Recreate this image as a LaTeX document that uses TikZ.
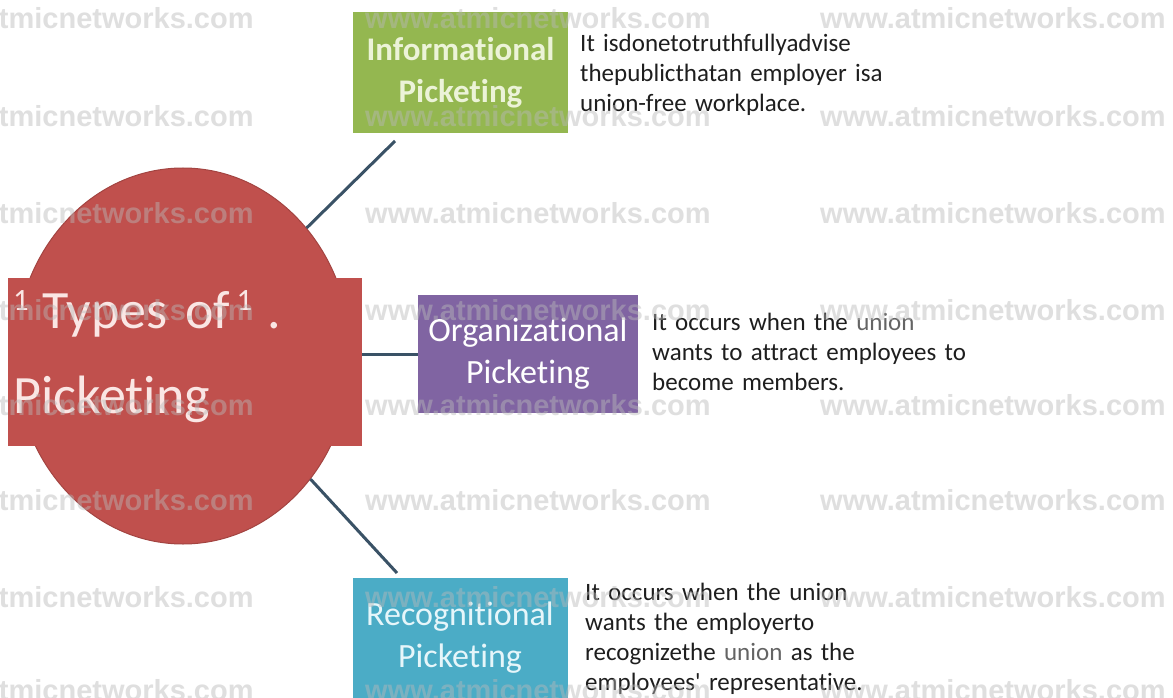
\documentclass[tikz,border=0pt]{standalone}
\usepackage{fontspec}
\setmainfont{Carlito}[Ligatures=NoCommon]
\newfontfamily\markfont{Liberation Sans}
\usetikzlibrary{shapes.geometric,positioning}
\definecolor{typesred}{RGB}{192,80,77}
\definecolor{infogreen}{RGB}{148,183,80}
\definecolor{orgpurple}{RGB}{128,100,162}
\definecolor{recogblue}{RGB}{75,172,198}
\definecolor{spokeslate}{RGB}{58,82,102}
\definecolor{bodyink}{RGB}{30,30,30}
\definecolor{uniongrey}{RGB}{100,100,100}
\definecolor{titleink}{RGB}{250,230,228}
\definecolor{infoink}{RGB}{236,243,216}
\definecolor{recogink}{RGB}{230,246,250}
\definecolor{markgrey}{RGB}{185,185,185}

\newcommand{\supone}{\raisebox{18bp}{\fontsize{31bp}{31bp}\selectfont 1}}

\tikzset{
  typebox/.style={rectangle, minimum width=215bp, minimum height=121bp, inner sep=0pt, align=center,
    font=\fontsize{34bp}{42bp}\selectfont},
  defnote/.style={anchor=base west, text width=420bp, align=left, inner sep=0pt, text=bodyink,
    font=\fontsize{25bp}{30bp}\selectfont},
  spoke/.style={draw=spokeslate, line width=3bp},
  watermark/.style={anchor=west, inner sep=0pt, text=markgrey, opacity=0.45,
    font=\markfont\bfseries\fontsize{29bp}{29bp}\selectfont}
}

\begin{document}
\begin{tikzpicture}[x=1bp,y=-1bp]
    \useasboundingbox (0,0) rectangle (1173,698);
    \clip (0,0) rectangle (1173,698);
    \fill[white] (0,0) rectangle (1173,698);

    % spokes ends
    \coordinate (infotail) at (395,141);
    \coordinate (recogtail) at (397,573);

    % hub
    \node[ellipse, fill=typesred, draw=typesred!85!black, line width=1bp, minimum width=336bp,
      minimum height=376bp, inner sep=0pt] (hub) at (183,356) {};
    \node[fill=typesred, minimum width=354bp, minimum height=168bp, inner sep=0pt] (title) at (185,362) {};
    \node[anchor=base west, text width=340bp, align=left, inner sep=0pt, text=titleink,
      font=\fontsize{54bp}{85bp}\selectfont] (titletext) at (13,328)
      {\supone\hspace{14bp}Types of\hspace{6bp}\supone\hspace{15bp}.\\Picketing};

    % types of picketing
    \node[typebox, fill=infogreen, text=infoink, font=\bfseries\fontsize{33bp}{42bp}\selectfont]
      (info) at (460.5,72.5) {Informational\\Picketing};
    \node[typebox, fill=orgpurple, text=white, minimum width=220bp, minimum height=118bp]
      (org) at (528,354) {Organizational\\Picketing};
    \node[typebox, fill=recogblue, text=recogink, minimum height=120bp]
      (recog) at (460,638) {Recognitional\\Picketing};

    % spokes
    \draw[spoke] (hub.46) -- (infotail);
    \draw[spoke] (title.east |- org.west) -- (org.west);
    \draw[spoke] (hub.-44) -- (recogtail);

    % definitions
    \node[defnote] (infodef) at (580,52)
      {It isdonetotruthfullyadvise\\thepublicthatan employer isa\\union-free workplace.};
    \node[defnote] (orgdef) at (652,330)
      {It occurs when the {\color{uniongrey}union}\\wants to attract employees to\\become members.};
    \node[defnote] (recogdef) at (585,600)
      {It occurs when the union\\wants the employerto\\recognizethe {\color{uniongrey}union} as the\\employees\textquotesingle{} representative.};

    % watermarks
    \foreach \y in {18,116,213,310,405,500,597,690}
      \foreach \x in {-92,365,820}
        \node[watermark] (wm\x\y) at (\x,\y) {www.atmicnetworks.com};
\end{tikzpicture}
\end{document}
